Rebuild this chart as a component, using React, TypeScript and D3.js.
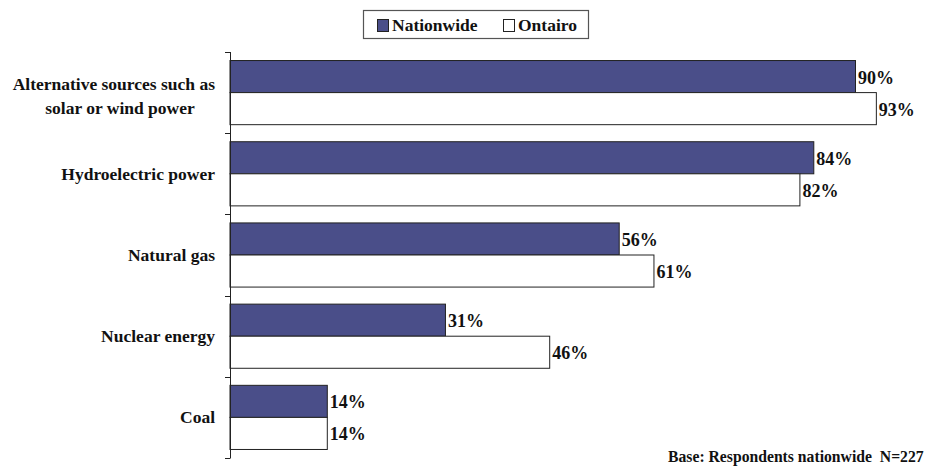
import React from "react";
import * as d3 from "d3";

const categories = [
  ["Alternative sources such as", "solar or wind power"],
  ["Hydroelectric power"],
  ["Natural gas"],
  ["Nuclear energy"],
  ["Coal"],
];
const categoryKeys = ["alt", "hydro", "gas", "nuclear", "coal"];
const nationwide = [90, 84, 56, 31, 14];
const ontario = [93, 82, 61, 46, 14];
const seriesNames = ["Nationwide", "Ontairo"];
const footnote = "Base: Respondents nationwide\u00a0\u00a0N=227";

const W = 927;
const H = 466;
const FONT = "Liberation Serif, Times New Roman, Times, serif";
const NAT_COLOR = "#4a4e89";

export default function App() {
  const x = d3.scaleLinear().domain([0, 100]).range([230, 925]);
  const y = d3.scaleBand().domain(categoryKeys).range([52, 458]).paddingInner(0.21).paddingOuter(0.105);
  const bh = y.bandwidth() / 2;
  const tickYs = d3.range(categoryKeys.length + 1).map((i) => 52 + i * (406 / categoryKeys.length));
  const ts: React.CSSProperties = { fontFamily: FONT, fontWeight: "bold" };

  return (
    <svg width={W} height={H} style={{ position: "absolute", left: 0, top: 0, background: "#fff", fontFamily: FONT }}>
      {/* legend */}
      <rect x={363.5} y={10.5} width={225} height={28} fill="#fff" stroke="#555" strokeWidth={1.2} />
      <rect x={377.5} y={19.5} width={11} height={12} fill={NAT_COLOR} stroke="#222" />
      <text x={392} y={31} fontSize={17.5} style={ts} fill="#111">{seriesNames[0]}</text>
      <rect x={503.5} y={19.5} width={11} height={12} fill="#fff" stroke="#222" />
      <text x={518} y={31} fontSize={17.5} style={ts} fill="#111">{seriesNames[1]}</text>

      {/* bars */}
      {categoryKeys.map((k, i) => {
        const y0 = y(k)!;
        const c = y0 + bh;
        return (
          <g key={k}>
            <rect x={x(0)} y={y0} width={x(nationwide[i]) - x(0)} height={bh} fill={NAT_COLOR} stroke="#222" strokeWidth={1} />
            <rect x={x(0)} y={y0 + bh} width={x(ontario[i]) - x(0)} height={bh} fill="#fff" stroke="#222" strokeWidth={1} />
            <text x={x(nationwide[i]) + 2.5} y={y0 + bh / 2 + 7} fontSize={18} style={ts} fill="#111">{nationwide[i]}%</text>
            <text x={x(ontario[i]) + 2.5} y={y0 + bh * 1.5 + 7} fontSize={18} style={ts} fill="#111">{ontario[i]}%</text>
            {categories[i].length === 1 ? (
              <text x={215} y={c + 6} textAnchor="end" fontSize={17.5} style={ts} fill="#111">{categories[i][0]}</text>
            ) : (
              categories[i].map((line, j) => (
                <text key={j} x={j === 0 ? 215 : 120} y={c - 3 + j * 24} textAnchor={j === 0 ? "end" : "middle"} fontSize={17.5} style={ts} fill="#111">{line}</text>
              ))
            )}
          </g>
        );
      })}

      {/* axis */}
      <line x1={230.5} x2={230.5} y1={52} y2={458} stroke="#222" strokeWidth={1} />
      {tickYs.map((t, i) => (
        <line key={i} x1={225} x2={230.5} y1={Math.round(t) + 0.5} y2={Math.round(t) + 0.5} stroke="#222" strokeWidth={1} />
      ))}

      <text x={668} y={462} fontSize={15.7} style={ts} fill="#111">{footnote}</text>
    </svg>
  );
}
